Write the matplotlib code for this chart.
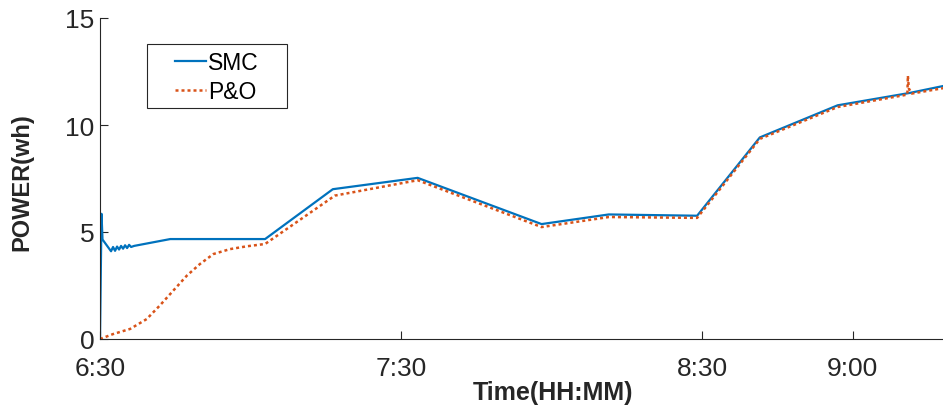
import matplotlib
matplotlib.use("Agg")
import matplotlib.pyplot as plt
from matplotlib.patches import Rectangle

plt.rcParams['font.family'] = ['Liberation Sans', 'DejaVu Sans']

# time in minutes after 6:30
smc_t = [0.0, 0.3, 0.5, 2.2, 2.6, 3.0, 3.4, 3.8, 4.2, 4.6, 5.0, 5.4, 5.8, 6.2, 6.8,
         14.0, 32.9, 46.4, 63.3, 88.0, 101.4, 119.0, 131.5, 147.0, 161.4, 168.0]
smc_p = [0.0, 5.85, 4.65, 4.1, 4.3, 4.12, 4.32, 4.18, 4.35, 4.22, 4.38, 4.25, 4.4, 4.3, 4.35,
         4.67, 4.67, 7.0, 7.53, 5.37, 5.82, 5.76, 9.42, 10.92, 11.5, 11.82]

po_t = [0.0, 2.6, 6.0, 9.3, 11.9, 14.6, 17.3, 19.9, 22.6, 25.9, 29.2, 32.9,
        46.8, 63.3, 88.0, 101.4, 119.0, 131.5, 147.0, 160.9, 161.0, 161.2, 161.8, 168.0]
po_p = [0.0, 0.23, 0.47, 0.93, 1.56, 2.26, 2.96, 3.5, 3.97, 4.2, 4.33, 4.44,
        6.7, 7.42, 5.23, 5.7, 5.66, 9.35, 10.84, 11.42, 12.3, 11.7, 11.47, 11.72]

tick_pos = [0, 60, 120, 150]
tick_lab = ['6:30', '7:30', '8:30', '9:00']
y_ticks = [0, 5, 10, 15]

W, H = 943, 414
fig = plt.figure(figsize=(W / 100, H / 100), dpi=100)
ax = fig.add_axes([100 / W, (H - 340) / H, 843 / W, 321 / H])

ax.plot(smc_t, smc_p, color='#0072BD', lw=1.6, label='SMC')
ax.plot(po_t, po_p, color='#D95319', lw=1.8, linestyle=(0, (1.2, 1.2)), label='P&O')

ax.set_xlim(0, 168)
ax.set_ylim(0, 15)
ax.set_xticks(tick_pos)
ax.set_xticklabels(tick_lab)
ax.set_yticks(y_ticks)

for s in ['top', 'right']:
    ax.spines[s].set_visible(False)
for s in ['left', 'bottom']:
    ax.spines[s].set_color('#262626')
    ax.spines[s].set_linewidth(0.8)

ax.tick_params(direction='in', length=6, width=0.8, colors='#262626', labelsize=19)
ax.tick_params(axis='x', pad=12)
ax.tick_params(axis='y', pad=4)

ax.set_xlabel('Time(HH:MM)', fontsize=18, fontweight='bold', color='#262626')
ax.xaxis.set_label_coords(0.537, -0.128)
ax.set_ylabel('POWER(wh)', fontsize=17, fontweight='bold', color='#262626')
ax.yaxis.set_label_coords(-0.079, 0.492)

leg = ax.legend(loc='center left', bbox_to_anchor=(175 / W, 1 - 78 / H),
                bbox_transform=fig.transFigure, fontsize=16.5, frameon=False,
                handlelength=1.35, handletextpad=0.1, borderpad=0.0,
                borderaxespad=0.0, labelspacing=0.3)
fig.patches.append(Rectangle((147 / W, (H - 109) / H), 140 / W, 64 / H,
                             transform=fig.transFigure, fill=False,
                             edgecolor='#262626', linewidth=0.8))

fig.savefig('out.png', dpi=100)
